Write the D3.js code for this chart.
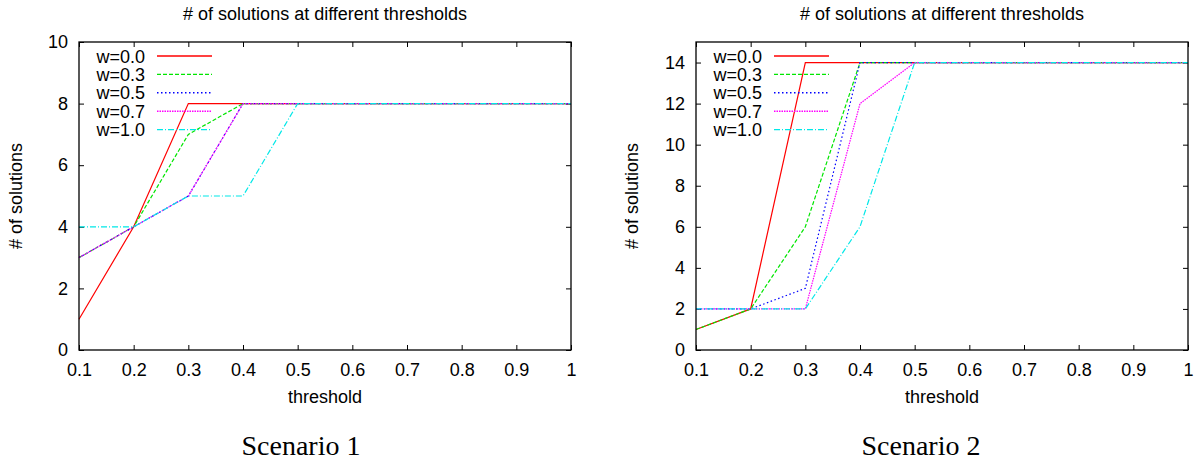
<!DOCTYPE html>
<html>
<head>
<meta charset="utf-8">
<script src="https://cdn.jsdelivr.net/npm/d3@7"></script>
<style>
  body { margin: 0; background: #fff; }
  svg { display: block; }
  .tick text { font-family: 'Liberation Sans', Arial, sans-serif; font-size: 18px; fill: #000; }
</style>
</head>
<body>
<svg id="chart"></svg>
<script>
// thresholds on the x axis
const thresholds = [0.1, 0.2, 0.3, 0.4, 0.5, 0.6, 0.7, 0.8, 0.9, 1.0];
const seriesNames = ['w=0.0', 'w=0.3', 'w=0.5', 'w=0.7', 'w=1.0'];

// scenario 1 values, one list per weight
const s1w00 = [1, 4, 8, 8, 8, 8, 8, 8, 8, 8];
const s1w03 = [3, 4, 7, 8, 8, 8, 8, 8, 8, 8];
const s1w05 = [3, 4, 5, 8, 8, 8, 8, 8, 8, 8];
const s1w07 = [3, 4, 5, 8, 8, 8, 8, 8, 8, 8];
const s1w10 = [4, 4, 5, 5, 8, 8, 8, 8, 8, 8];

// scenario 2 values
const s2w00 = [1, 2, 14, 14, 14, 14, 14, 14, 14, 14];
const s2w03 = [1, 2, 6, 14, 14, 14, 14, 14, 14, 14];
const s2w05 = [2, 2, 3, 14, 14, 14, 14, 14, 14, 14];
const s2w07 = [2, 2, 2, 12, 14, 14, 14, 14, 14, 14];
const s2w10 = [2, 2, 2, 6, 14, 14, 14, 14, 14, 14];

const yTicks1 = [0, 2, 4, 6, 8, 10];
const yTicks2 = [0, 2, 4, 6, 8, 10, 12, 14];

// gnuplot-ish line styles
const colors = ['#ff0000', '#00e600', '#0000ff', '#ff00ff', '#00e8e8'];
const dashes = ['none', '4,2', '1.5,2.5', '1.5,1', '6,2,1,2'];

const W = 1197, H = 464;
const sans = "'Liberation Sans', Arial, sans-serif";

const svg = d3.select('#chart').attr('width', W).attr('height', H);

const panels = [
  { left: 79, right: 571, yMax: 10, yTicks: yTicks1, series: [s1w00, s1w03, s1w05, s1w07, s1w10],
    yLabelX: 22, caption: 'Scenario 1', captionX: 301 },
  { left: 696, right: 1188, yMax: 15, yTicks: yTicks2, series: [s2w00, s2w03, s2w05, s2w07, s2w10],
    yLabelX: 638, caption: 'Scenario 2', captionX: 921 },
];
const plotTop = 42, plotBottom = 350;

panels.forEach((p) => {
  const x = d3.scaleLinear().domain([0.1, 1]).range([p.left, p.right]);
  const y = d3.scaleLinear().domain([0, p.yMax]).range([plotBottom, plotTop]);
  const g = svg.append('g');
  const fmtX = (d) => (d === 1 ? '1' : d3.format('.1f')(d));
  const midX = (p.left + p.right) / 2;

  // axes, ticks pointing inward, mirrored on top/right
  g.append('g').attr('transform', `translate(0,${plotBottom})`)
    .call(d3.axisBottom(x).tickValues(thresholds).tickFormat(fmtX).tickSizeInner(-5).tickSizeOuter(0).tickPadding(13))
    .call((a) => a.select('.domain').remove());
  g.append('g').attr('transform', `translate(0,${plotTop})`)
    .call(d3.axisTop(x).tickValues(thresholds).tickFormat('').tickSizeInner(-5).tickSizeOuter(0))
    .call((a) => a.select('.domain').remove());
  g.append('g').attr('transform', `translate(${p.left},0)`)
    .call(d3.axisLeft(y).tickValues(p.yTicks).tickSizeInner(-5).tickSizeOuter(0).tickPadding(11))
    .call((a) => a.select('.domain').remove());
  g.append('g').attr('transform', `translate(${p.right},0)`)
    .call(d3.axisRight(y).tickValues(p.yTicks).tickFormat('').tickSizeInner(-5).tickSizeOuter(0))
    .call((a) => a.select('.domain').remove());
  g.selectAll('.tick line').attr('stroke', '#000');

  // data lines
  const line = d3.line().x((d, i) => x(thresholds[i])).y((d) => y(d));
  p.series.forEach((vals, k) => {
    g.append('path')
      .datum(vals)
      .attr('d', line)
      .attr('fill', 'none')
      .attr('stroke', colors[k])
      .attr('stroke-width', 1.2)
      .attr('stroke-dasharray', dashes[k]);
  });

  // frame
  g.append('rect')
    .attr('x', p.left).attr('y', plotTop)
    .attr('width', p.right - p.left).attr('height', plotBottom - plotTop)
    .attr('fill', 'none').attr('stroke', '#000').attr('stroke-width', 1.3);

  // legend
  seriesNames.forEach((name, k) => {
    const ly = 56 + k * 18.4;
    g.append('text')
      .attr('x', p.left + 66).attr('y', ly + 6.5)
      .attr('text-anchor', 'end')
      .attr('font-family', sans).attr('font-size', 18)
      .text(name);
    g.append('line')
      .attr('x1', p.left + 78).attr('x2', p.left + 133)
      .attr('y1', ly).attr('y2', ly)
      .attr('stroke', colors[k])
      .attr('stroke-width', 1.4)
      .attr('stroke-dasharray', dashes[k]);
  });

  // titles and labels
  g.append('text')
    .attr('x', midX).attr('y', 20)
    .attr('text-anchor', 'middle')
    .attr('font-family', sans).attr('font-size', 18)
    .text('# of solutions at different thresholds');
  g.append('text')
    .attr('x', midX).attr('y', 403)
    .attr('text-anchor', 'middle')
    .attr('font-family', sans).attr('font-size', 18)
    .text('threshold');
  g.append('text')
    .attr('transform', `translate(${p.yLabelX},196) rotate(-90)`)
    .attr('text-anchor', 'middle')
    .attr('font-family', sans).attr('font-size', 18)
    .text('# of solutions');
  g.append('text')
    .attr('x', p.captionX).attr('y', 455)
    .attr('text-anchor', 'middle')
    .attr('font-family', "'Liberation Serif', 'Times New Roman', serif").attr('font-size', 28)
    .text(p.caption);
});
</script>
</body>
</html>
